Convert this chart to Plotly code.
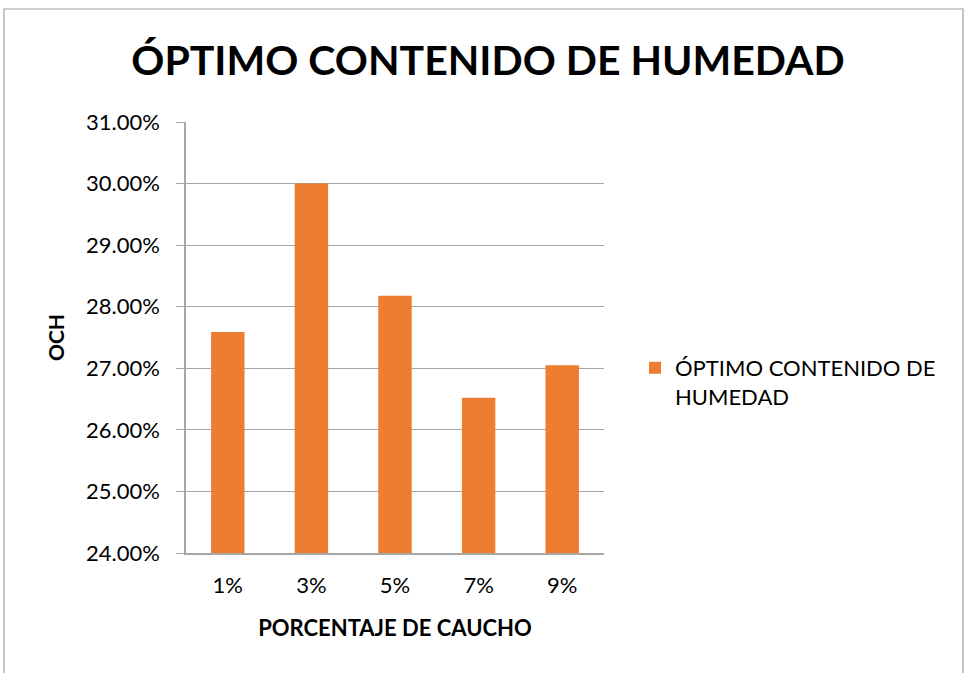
import plotly.graph_objects as go

categories = ["1%", "3%", "5%", "7%", "9%"]
och_values = [0.2759, 0.3000, 0.2818, 0.2652, 0.2705]
series_name = "ÓPTIMO CONTENIDO DE<br>HUMEDAD"
title_text = "ÓPTIMO CONTENIDO DE HUMEDAD"
x_title = "PORCENTAJE DE CAUCHO"
y_title = "OCH"

W, H = 964, 673
L, R, T, B = 186, 604, 122, 553

fig = go.Figure(go.Bar(
    x=categories, y=och_values, name=series_name,
    marker=dict(color="#ED7D31", line=dict(width=0)),
    showlegend=True,
))

FONT = "Lato"
gray = "#A6A6A6"

def px2x(p):
    return (p - L) / (R - L)

def px2y(p):
    return (B - p) / (B - T)

fig.update_layout(
    width=W, height=H,
    margin=dict(l=L, r=W - R, t=T, b=H - B, pad=0),
    paper_bgcolor="white", plot_bgcolor="white",
    font=dict(family=FONT, color="black"),
    bargap=0.6,
    title=dict(text="<b>" + title_text + "</b>", x=488 / W, xanchor="center",
               y=1 - 61 / H, yanchor="middle",
               font=dict(family=FONT, size=41, color="black")),
    xaxis=dict(
        showline=True, linecolor=gray, linewidth=1.5,
        ticks="", tickfont=dict(size=22), ticklabelstandoff=12,
        title=dict(text="<b>" + x_title + "</b>", font=dict(size=22), standoff=23),
        showgrid=False,
    ),
    yaxis=dict(
        range=[0.24, 0.31], dtick=0.01, tickformat=".2%",
        showline=True, linecolor=gray, linewidth=1.5,
        gridcolor=gray, gridwidth=1.2,
        ticks="outside", ticklen=8, tickcolor=gray, tickwidth=1.2,
        tickfont=dict(size=22), ticklabelstandoff=12,
        title=dict(text="<b>" + y_title + "</b>", font=dict(size=21), standoff=16),
        zeroline=False,
    ),
    legend=dict(x=px2x(635), y=px2y(347), xanchor="left", yanchor="top",
                valign="top", font=dict(size=22), itemwidth=30,
                bgcolor="rgba(0,0,0,0)", tracegroupgap=0),
    shapes=[dict(type="rect", xref="paper", yref="paper",
                 x0=px2x(4), x1=px2x(963), y0=px2y(690), y1=px2y(9),
                 line=dict(color="#A0A0A0", width=1.2), fillcolor="rgba(0,0,0,0)",
                 layer="below")],
)

fig.write_html("out.html", config={"displayModeBar": False})
with open("out.html", encoding="utf-8") as f:
    html = f.read()
html = html.replace("<head>", "<head><style>html,body{margin:0;padding:0;overflow:hidden;}</style>", 1)
with open("out.html", "w", encoding="utf-8") as f:
    f.write(html)
